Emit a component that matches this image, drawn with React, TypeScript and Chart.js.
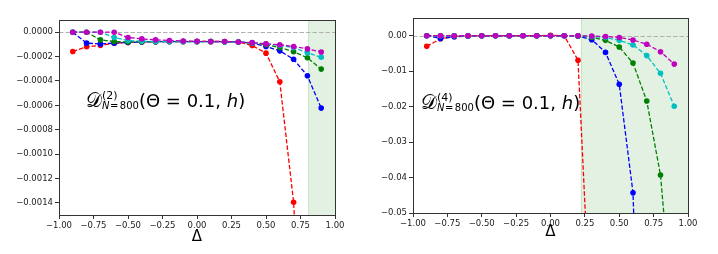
import React, { useEffect, useRef } from "react";
import { Chart, registerables } from "chart.js";

Chart.register(...registerables);

// ---------- data ----------
const xValues = [-0.9, -0.8, -0.7, -0.6, -0.5, -0.4, -0.3, -0.2, -0.1, 0.0, 0.1, 0.2, 0.3, 0.4, 0.5, 0.6, 0.7, 0.8, 0.9];
const xTicks = [-1, -0.75, -0.5, -0.25, 0, 0.25, 0.5, 0.75, 1];

// Left panel: D^(2)_{N=800}
const yTicksD2 = [0, -0.0002, -0.0004, -0.0006, -0.0008, -0.001, -0.0012, -0.0014];
const red2 = [-0.000158, -0.00012, -0.000108, -0.00009, -0.000084, -0.00008, -0.000078, -0.000077, -0.000076, -0.000076, -0.000076, -0.000077, -0.00008, -0.00011, -0.000172, -0.000407, -0.001395, -0.0035, -0.009];
const blue2 = [0, -0.00009, -0.000096, -0.00009, -0.000085, -0.00008, -0.000078, -0.000077, -0.000077, -0.000077, -0.000077, -0.000078, -0.00008, -0.00009, -0.000118, -0.000153, -0.000222, -0.000358, -0.000623];
const green2 = [0, 0, -0.000063, -0.000077, -0.00008, -0.000078, -0.000078, -0.000077, -0.000077, -0.000077, -0.000077, -0.000078, -0.00008, -0.00009, -0.000103, -0.000126, -0.00016, -0.00021, -0.000303];
const cyan2 = [0, 0, 0, -0.000044, -0.000068, -0.000074, -0.000076, -0.000077, -0.000077, -0.000077, -0.000077, -0.000078, -0.00008, -0.000088, -0.000095, -0.000108, -0.000126, -0.00017, -0.000205];
const magenta2 = [0, 0, 0, 0, -0.000044, -0.000055, -0.000063, -0.000068, -0.000072, -0.000075, -0.000076, -0.000077, -0.00008, -0.000086, -0.000096, -0.000103, -0.000117, -0.000137, -0.000162];

// Right panel: D^(4)_{N=800}
const yTicksD4 = [0, -0.01, -0.02, -0.03, -0.04, -0.05];
const red4 = [-0.003, -0.00085, -0.0002, -0.00005, 0, 0, 0, 0, 0, 0.0001, 0, -0.0069, -0.088, null, null, null, null, null, null];
const blue4 = [0, -0.00075, -0.0003, -0.0001, 0, 0, 0, 0, 0, 0, 0, -0.0001, -0.0011, -0.0047, -0.0137, -0.0443, -0.16, null, null];
const green4 = [0, 0, 0, 0, 0, 0, 0, 0, 0, 0, 0, -0.0001, -0.0004, -0.0013, -0.0032, -0.0077, -0.0184, -0.0393, -0.084];
const cyan4 = [0, 0, 0, 0, 0, 0, 0, 0, 0, 0, 0, 0, -0.0002, -0.0005, -0.0013, -0.0026, -0.0056, -0.0106, -0.0199];
const magenta4 = [0, 0, 0, 0, 0, 0, 0, 0, 0, 0, 0, 0, -0.0001, -0.0002, -0.0005, -0.0012, -0.0024, -0.0045, -0.008];

const seriesColors = ["#ff0000", "#0000ff", "#008000", "#00bfbf", "#bf00bf"];
const shadeFromD2 = 0.805;
const shadeFromD4 = 0.22;

// ---------- layout ----------
const PANEL_W = 359;
const PANEL_H = 254;
const FONT = '"DejaVu Sans", sans-serif';

type Spec = {
  series: (number | null)[][];
  yMin: number;
  yMax: number;
  yTicks: number[];
  decimals: number;
  shadeFrom: number;
  area: { left: number; right: number; top: number; bottom: number };
  order: string;
  textX: number;
  textY: number;
  deltaY: number;
};

const specs: Spec[] = [
  {
    series: [red2, blue2, green2, cyan2, magenta2],
    yMin: -0.0015,
    yMax: 0.0001,
    yTicks: yTicksD2,
    decimals: 4,
    shadeFrom: shadeFromD2,
    area: { left: 59, right: 335, top: 20, bottom: 215 },
    order: "2",
    textX: 86,
    textY: 107,
    deltaY: 237,
  },
  {
    series: [red4, blue4, green4, cyan4, magenta4],
    yMin: -0.05,
    yMax: 0.005,
    yTicks: yTicksD4,
    decimals: 2,
    shadeFrom: shadeFromD4,
    area: { left: 54, right: 329, top: 18, bottom: 213 },
    order: "4",
    textX: 62,
    textY: 109,
    deltaY: 232,
  },
];

const fmt = (v: number, d: number) => {
  const s = Math.abs(v).toFixed(d);
  return v < 0 && Math.abs(v) > 1e-12 ? "\u2212" + s : s;
};

function drawMath(ctx: CanvasRenderingContext2D, x: number, y: number, order: string) {
  ctx.save();
  ctx.fillStyle = "#000";
  ctx.textAlign = "left";
  ctx.textBaseline = "alphabetic";
  ctx.font = '20px "DejaVu Serif", "DejaVu Sans", serif';
  ctx.fillText("\u{1D49F}", x, y);
  const wD = ctx.measureText("\u{1D49F}").width;
  const sx = x + wD;
  ctx.font = `11px ${FONT}`;
  ctx.fillText(`(${order})`, sx, y - 8);
  ctx.font = `italic 10px ${FONT}`;
  ctx.fillText("N", sx, y + 2);
  let cx = sx + ctx.measureText("N").width + 0.5;
  ctx.font = `10px ${FONT}`;
  ctx.fillText("=", cx, y + 2);
  cx += ctx.measureText("=").width + 1.5;
  ctx.fillText("800", cx, y + 2);
  cx += ctx.measureText("800").width;
  ctx.font = `18px ${FONT}`;
  const part1 = "(\u0398 = 0.1, ";
  ctx.fillText(part1, cx, y);
  cx += ctx.measureText(part1).width;
  ctx.font = `italic 18px ${FONT}`;
  ctx.fillText("h", cx, y);
  cx += ctx.measureText("h").width;
  ctx.font = `18px ${FONT}`;
  ctx.fillText(")", cx, y);
  ctx.restore();
}

function makeDecor(spec: Spec) {
  return {
    id: "decor",
    beforeDatasetsDraw(chart: any) {
      const { ctx, chartArea: a } = chart;
      const xs = chart.scales.x;
      const ys = chart.scales.y;
      ctx.save();
      const sx = xs.getPixelForValue(spec.shadeFrom);
      ctx.fillStyle = "rgba(0,128,0,0.11)";
      ctx.fillRect(sx, a.top, a.right - sx, a.bottom - a.top);
      ctx.strokeStyle = "rgba(0,128,0,0.12)";
      ctx.lineWidth = 1;
      ctx.beginPath();
      ctx.moveTo(Math.round(sx) + 0.5, a.top);
      ctx.lineTo(Math.round(sx) + 0.5, a.bottom);
      ctx.stroke();
      const y0 = Math.round(ys.getPixelForValue(0)) + 0.5;
      ctx.strokeStyle = "#b0b0b0";
      ctx.lineWidth = 1.2;
      ctx.setLineDash([4.5, 2]);
      ctx.beginPath();
      ctx.moveTo(a.left, y0);
      ctx.lineTo(a.right, y0);
      ctx.stroke();
      ctx.restore();
    },
    afterDraw(chart: any) {
      const { ctx, chartArea: a } = chart;
      ctx.save();
      ctx.strokeStyle = "#333";
      ctx.lineWidth = 1;
      ctx.strokeRect(Math.round(a.left) + 0.5, Math.round(a.top) + 0.5, Math.round(a.right - a.left), Math.round(a.bottom - a.top));
      ctx.fillStyle = "#000";
      ctx.font = `15px ${FONT}`;
      ctx.textAlign = "center";
      ctx.textBaseline = "middle";
      ctx.fillText("\u0394", (a.left + a.right) / 2, spec.deltaY);
      ctx.restore();
      drawMath(ctx, spec.textX, spec.textY, spec.order);
    },
  };
}

function Panel({ spec }: { spec: Spec }) {
  const ref = useRef<HTMLCanvasElement | null>(null);
  useEffect(() => {
    const canvas = ref.current!;
    const datasets = spec.series.map((arr, i) => ({
      data: xValues.map((x, j) => ({ x, y: arr[j] })),
      borderColor: seriesColors[i],
      backgroundColor: seriesColors[i],
      pointBackgroundColor: seriesColors[i],
      pointBorderWidth: 0,
      pointRadius: 2.8,
      borderWidth: 1.3,
      borderDash: [4.5, 2],
      tension: 0,
      spanGaps: false,
      order: 5 - i,
    }));
    const chart = new Chart(canvas, {
      type: "line",
      data: { datasets },
      options: {
        animation: false,
        responsive: false,
        devicePixelRatio: 1,
        events: [],
        layout: {
          padding: { top: spec.area.top, right: PANEL_W - spec.area.right, left: 0, bottom: 0 },
        },
        plugins: { legend: { display: false }, tooltip: { enabled: false } },
        scales: {
          x: {
            type: "linear",
            min: -1,
            max: 1,
            border: { display: false },
            grid: { drawOnChartArea: false, drawTicks: true, tickLength: 4, color: "#333", tickColor: "#333" },
            ticks: {
              padding: 2,
              color: "#222",
              font: { family: FONT, size: 8.5 },
              maxRotation: 0,
              autoSkip: false,
              callback: (v: any) => fmt(Number(v), 2),
            },
            afterBuildTicks: (s: any) => {
              s.ticks = xTicks.map((v) => ({ value: v }));
            },
            afterFit: (s: any) => {
              s.height = PANEL_H - spec.area.bottom;
            },
          },
          y: {
            type: "linear",
            min: spec.yMin,
            max: spec.yMax,
            border: { display: false },
            grid: { drawOnChartArea: false, drawTicks: true, tickLength: 4, color: "#333", tickColor: "#333" },
            ticks: {
              padding: 2,
              color: "#222",
              font: { family: FONT, size: 8.5 },
              autoSkip: false,
              callback: (v: any) => fmt(Number(v), spec.decimals),
            },
            afterBuildTicks: (s: any) => {
              s.ticks = spec.yTicks.map((v) => ({ value: v }));
            },
            afterFit: (s: any) => {
              s.width = spec.area.left;
            },
          },
        },
      },
      plugins: [makeDecor(spec)],
    } as any);
    return () => chart.destroy();
  }, [spec]);
  return (
    <canvas
      ref={ref}
      width={PANEL_W}
      height={PANEL_H}
      style={{ display: "block", width: PANEL_W, height: PANEL_H }}
    />
  );
}

export default function App() {
  useEffect(() => {
    document.body.style.margin = "0";
    document.body.style.background = "#fff";
  }, []);
  return (
    <div style={{ display: "flex", width: 718, height: 254, background: "#fff" }}>
      <Panel spec={specs[0]} />
      <Panel spec={specs[1]} />
    </div>
  );
}
